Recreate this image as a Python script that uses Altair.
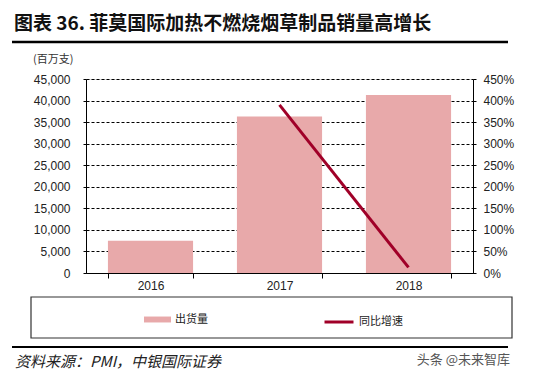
import altair as alt
import pandas as pd

# ---- data ----
years = ["2016", "2017", "2018"]
volume = [7500, 36300, 41300]          # 出货量 (百万支)
growth = [None, 3.90, 0.13]            # 同比增速
left_ticks = [0, 5000, 10000, 15000, 20000, 25000, 30000, 35000, 40000, 45000]
right_ticks = [0, 0.5, 1.0, 1.5, 2.0, 2.5, 3.0, 3.5, 4.0, 4.5]

title_text = "图表 36. 菲莫国际加热不燃烧烟草制品销量高增长"
unit_text = "(百万支)"
source_text = "资料来源：PMI，中银国际证券"
mark_text = "头条 @未来智库"
bar_name = "出货量"
line_name = "同比增速"

PINK = "#E8A9AA"
RED = "#A00028"
FONT = "Liberation Sans"
CJK = "Noto Sans CJK SC"

df = pd.DataFrame({"year": years, "volume": volume, "growth": growth,
                   "s1": bar_name, "s2": line_name})
df_line = df.dropna(subset=["growth"])

W, H = 387, 194

xenc = alt.X("year:N", title=None, sort=years,
             scale=alt.Scale(paddingInner=0.34, paddingOuter=0.17),
             axis=alt.Axis(labelAngle=0, tickBand="extent", tickSize=5,
                           labelPadding=2, domainColor="black", tickColor="black",
                           labelFont=FONT, labelFontSize=12, labelColor="#222"))

bars = alt.Chart(df).mark_bar(color=PINK).encode(
    x=xenc,
    y=alt.Y("volume:Q", title=None,
            scale=alt.Scale(domain=[0, 45000], nice=False),
            axis=alt.Axis(values=left_ticks, format=",.0f", grid=True,
                          gridColor="black", gridDash=[3, 2], gridWidth=1,
                          domainColor="black", tickColor="black", tickSize=3,
                          labelPadding=13, labelFont=FONT, labelFontSize=12,
                          labelColor="#222")),
    color=alt.Color("s1:N", scale=alt.Scale(domain=[bar_name], range=[PINK]),
                    legend=alt.Legend(orient="none", legendX=58, legendY=227,
                                      title=None, padding=0,
                                      symbolType="M-1,-0.22H1V0.22H-1Z",
                                      symbolSize=729, symbolStrokeWidth=0,
                                      labelFont=CJK, labelFontSize=11,
                                      labelColor="#222", labelOffset=4)),
)

line = alt.Chart(df_line).mark_line(strokeWidth=3).encode(
    x=alt.X("year:N", sort=years, scale=alt.Scale(paddingInner=0.34, paddingOuter=0.17)),
    y=alt.Y("growth:Q", title=None,
            scale=alt.Scale(domain=[0, 4.5], nice=False),
            axis=alt.Axis(orient="right", values=right_ticks, format=".0%",
                          grid=False, domainColor="black", tickColor="black",
                          tickSize=3, labelPadding=7, labelFont=FONT,
                          labelFontSize=12, labelColor="#222")),
    stroke=alt.Stroke("s2:N", scale=alt.Scale(domain=[line_name], range=[RED]),
                      legend=alt.Legend(orient="none", legendX=237, legendY=227,
                                        title=None, padding=0,
                                        symbolType="stroke", symbolSize=841,
                                        symbolStrokeWidth=3,
                                        labelFont=CJK, labelFontSize=11,
                                        labelColor="#222", labelOffset=4)),
)

one = pd.DataFrame({"t": [""]})

def txt(s, x, y, size, weight="normal", style="normal", color="#111",
        align="left", font=CJK):
    return alt.Chart(pd.DataFrame({"t": [s]})).mark_text(
        align=align, baseline="middle", fontSize=size, fontWeight=weight,
        fontStyle=style, color=color, font=font
    ).encode(text="t:N", x=alt.value(x), y=alt.value(y))

def hrule(y, x1, x2, w):
    return alt.Chart(one).mark_rule(color="black", strokeWidth=w).encode(
        x=alt.value(x1), x2=alt.value(x2), y=alt.value(y))

box = alt.Chart(one).mark_rect(fillOpacity=0, stroke="#333", strokeWidth=1.2).encode(
    x=alt.value(-55), x2=alt.value(426), y=alt.value(218), y2=alt.value(259))

deco = [
    txt(title_text, -72, -55, 19, weight="bold"),
    hrule(-37, -74, 422, 2.5),
    txt(unit_text, -53, -19, 11, color="#333"),
    box,
    hrule(268, -74, 422, 2),
    txt(source_text, -71, 283, 15, style="italic", color="#222"),
    txt(mark_text, 424, 281, 13, color="#555", align="right"),
]

chart = alt.layer(bars, line, *deco).resolve_scale(
    y="independent", color="independent", stroke="independent"
).properties(
    width=W, height=H,
    autosize=alt.AutoSizeParams(type="none"),
    padding={"left": 78, "top": 71, "right": 73, "bottom": 97},
).configure_view(stroke=None).configure(background="white")

chart.save("out.html", embed_options={"renderer": "svg", "actions": False})
